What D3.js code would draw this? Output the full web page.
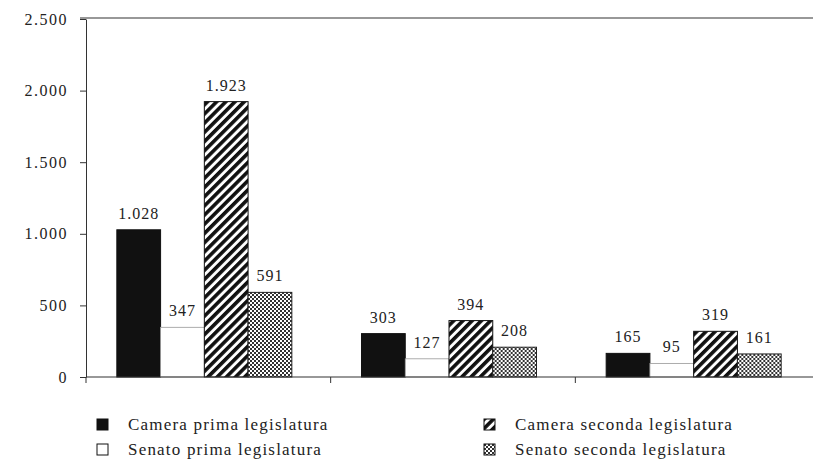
<!DOCTYPE html>
<html><head><meta charset="utf-8">
<script src="https://cdn.jsdelivr.net/npm/d3@7"></script>
<style>
html,body{margin:0;padding:0;background:#fff;}
text{font-family:"Liberation Serif","DejaVu Serif",serif;fill:#222;}
</style></head>
<body><svg id="c" width="813" height="466"></svg>
<script>
const groups = ["g1","g2","g3"];
const seriesNames = ["Camera prima legislatura","Senato prima legislatura","Camera seconda legislatura","Senato seconda legislatura"];
const cameraPrima = [1028, 303, 165];
const senatoPrima = [347, 127, 95];
const cameraSeconda = [1923, 394, 319];
const senatoSeconda = [591, 208, 161];
const yTicks = [0, 500, 1000, 1500, 2000, 2500];

(function(){
const seriesValues = [cameraPrima, senatoPrima, cameraSeconda, senatoSeconda];
const fills = ["#111", "#fff", "url(#hatch)", "url(#dots)"];
const strokes = ["#111", "#999", "#111", "#222"];

const loc = d3.formatLocale({decimal:",", thousands:".", grouping:[3], currency:["","€"]});
const fmt = loc.format(",d");

const svg = d3.select("#c");
const defs = svg.append("defs");
const h = defs.append("pattern").attr("id","hatch").attr("patternUnits","userSpaceOnUse")
  .attr("width",6.5).attr("height",6.5).attr("patternTransform","rotate(45)");
h.append("rect").attr("width",6.5).attr("height",6.5).attr("fill","#fff");
h.append("rect").attr("width",3.6).attr("height",6.5).attr("fill","#111");
const dp = defs.append("pattern").attr("id","dots").attr("patternUnits","userSpaceOnUse")
  .attr("width",4).attr("height",4);
dp.append("rect").attr("width",4).attr("height",4).attr("fill","#fff");
dp.append("rect").attr("x",0).attr("y",0).attr("width",2).attr("height",2).attr("fill","#333");
dp.append("rect").attr("x",2).attr("y",2).attr("width",2).attr("height",2).attr("fill","#333");

const pL = 86, pR = 820, pT = 19, pB = 377;
const y = d3.scaleLinear().domain([0,2500]).range([pB, pT]);
const x0 = d3.scaleBand().domain(groups).range([pL, pR]).paddingInner(0);
const bw = x0.bandwidth();
const inner = 175;
const x1 = d3.scaleBand().domain(d3.range(4)).range([(bw-inner)/2 - 4, (bw+inner)/2 - 4]).padding(0);

svg.append("line").attr("x1",80).attr("x2",813).attr("y1",pT-1).attr("y2",pT-1)
  .attr("stroke","#333").attr("stroke-width",1.2);

const yAxis = d3.axisLeft(y).tickValues(yTicks).tickFormat(fmt).tickSize(6).tickSizeOuter(0).tickPadding(12);
const ga = svg.append("g").attr("transform",`translate(${pL},0)`).call(yAxis);
ga.select(".domain").attr("stroke","#333");
ga.selectAll(".tick line").attr("stroke","#333");
ga.selectAll(".tick text").attr("font-size",16).attr("letter-spacing",1.5).attr("fill","#222")
  .style("font-family","'Liberation Serif',serif");

groups.forEach((g, gi) => {
  const gg = svg.append("g").attr("transform",`translate(${x0(g)},0)`);
  seriesValues.forEach((vals, si) => {
    const v = vals[gi];
    gg.append("rect").attr("x", x1(si)).attr("width", x1.bandwidth())
      .attr("y", y(v)).attr("height", pB - y(v))
      .attr("fill", fills[si]).attr("stroke", strokes[si]).attr("stroke-width", si===1?0.8:1);
    gg.append("text").attr("x", x1(si) + x1.bandwidth()/2).attr("y", y(v) - 11)
      .attr("text-anchor","middle").attr("font-size",16).attr("letter-spacing",1)
      .text(fmt(v));
  });
});

svg.append("line").attr("x1",pL).attr("x2",813).attr("y1",pB).attr("y2",pB)
  .attr("stroke","#333").attr("stroke-width",1.2);
const bounds = groups.map(g => x0(g));
svg.selectAll(".xt").data(bounds).join("line")
  .attr("x1",d=>d).attr("x2",d=>d).attr("y1",pB).attr("y2",pB+6)
  .attr("stroke","#333");

const legPos = [[97,425],[97,450],[484,425],[484,450]];
seriesNames.forEach((n, i) => {
  const [lx, ly] = legPos[i];
  svg.append("rect").attr("x",lx).attr("y",ly-6).attr("width",11).attr("height",11)
    .attr("fill",fills[i]).attr("stroke","#111").attr("stroke-width",1);
  svg.append("text").attr("x",lx+31).attr("y",ly+5).attr("font-size",17).attr("letter-spacing",1.2).text(n);
});
})();
</script></body></html>
